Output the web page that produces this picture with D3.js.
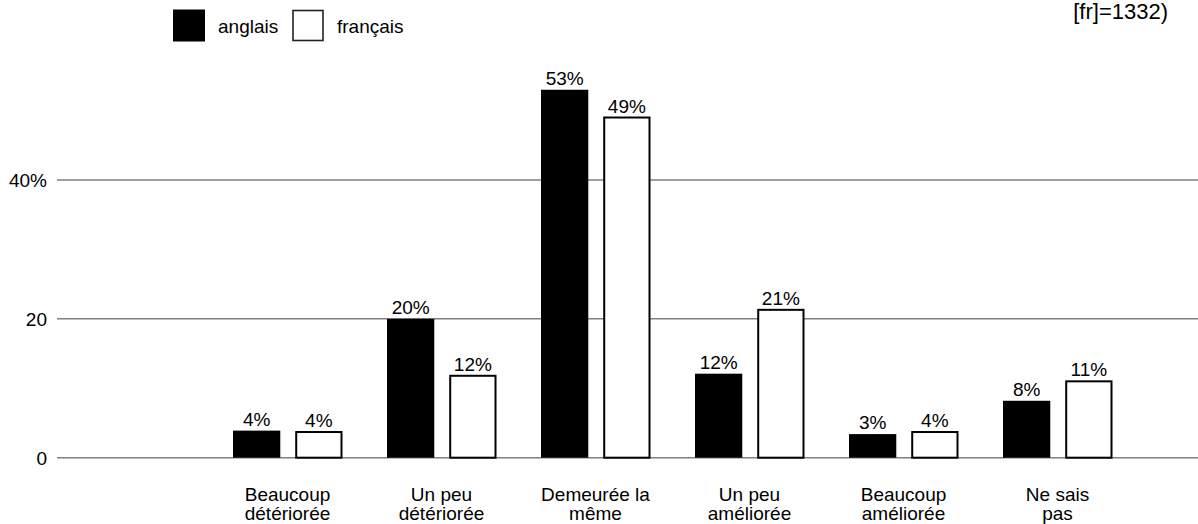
<!DOCTYPE html>
<html>
<head>
<meta charset="utf-8">
<script src="https://cdn.jsdelivr.net/npm/d3@7"></script>
<style>
  body { margin: 0; background: #fff; }
  svg { display: block; font-family: "Liberation Sans", Arial, Helvetica, sans-serif; }
</style>
</head>
<body>
<div id="chart"></div>
<script>
var width = 1198, height = 524;

// data
var categories = [
  ["Beaucoup", "détériorée"],
  ["Un peu", "détériorée"],
  ["Demeurée la", "même"],
  ["Un peu", "améliorée"],
  ["Beaucoup", "améliorée"],
  ["Ne sais", "pas"]
];
var series = ["anglais", "français"];
var anglais = [3.9, 20, 53, 12.1, 3.4, 8.2];
var francais = [3.7, 11.8, 49, 21.3, 3.7, 11];
var yTicks = [0, 20, 40];
var yTickLabels = ["0", "20", "40%"];
var note = "[fr]=1332)";

var fs = 19;

var svg = d3.select("#chart")
  .append("svg")
  .attr("width", width)
  .attr("height", height);

var x0 = d3.scaleBand()
  .domain(d3.range(categories.length))
  .range([210.5, 1134.5]);

var x1 = d3.scaleBand()
  .domain(series)
  .range([22.5, 132])
  .paddingInner(0.24);

var y = d3.scaleLinear()
  .domain([0, 40])
  .range([457.7, 180]);

var fill = d3.scaleOrdinal().domain(series).range(["#000", "#fff"]);

// gridlines + labels
var grid = svg.append("g");
grid.selectAll("line")
  .data(yTicks)
  .enter()
  .append("line")
  .attr("x1", 57)
  .attr("x2", width)
  .attr("y1", d => y(d))
  .attr("y2", d => y(d))
  .attr("stroke", "#808080")
  .attr("stroke-width", 1.5);

grid.selectAll("text")
  .data(yTicks)
  .enter()
  .append("text")
  .attr("x", 47)
  .attr("y", d => y(d))
  .attr("dy", "0.36em")
  .attr("text-anchor", "end")
  .style("font-size", fs + "px")
  .text((d, i) => yTickLabels[i]);

// bars
var rows = categories.map(function(c, i) {
  return [
    { key: "anglais", value: anglais[i] },
    { key: "français", value: francais[i] }
  ];
});

var groups = svg.append("g")
  .selectAll("g")
  .data(rows)
  .enter()
  .append("g")
  .attr("transform", (d, i) => "translate(" + x0(i) + ",0)");

groups.selectAll("rect")
  .data(d => d)
  .enter()
  .append("rect")
  .attr("x", d => x1(d.key) + (d.key == "français" ? 1 : 0))
  .attr("y", d => y(d.value))
  .attr("width", d => x1.bandwidth() - (d.key == "français" ? 2 : 0))
  .attr("height", d => y(0) - y(d.value))
  .attr("fill", d => fill(d.key))
  .attr("stroke", "#000")
  .attr("stroke-width", d => d.key == "français" ? 2 : 0);

groups.selectAll("text")
  .data(d => d)
  .enter()
  .append("text")
  .attr("x", d => x1(d.key) + x1.bandwidth() / 2)
  .attr("y", d => y(d.value) - 5)
  .attr("text-anchor", "middle")
  .style("font-size", fs + "px")
  .text(d => Math.round(d.value) + "%");

// category labels
var cats = svg.append("g")
  .selectAll("text")
  .data(categories)
  .enter()
  .append("text")
  .attr("text-anchor", "middle")
  .attr("x", (d, i) => x0(i) + x0.bandwidth() / 2)
  .attr("y", 501)
  .style("font-size", fs + "px");

cats.selectAll("tspan")
  .data(d => d)
  .enter()
  .append("tspan")
  .attr("x", function() { return d3.select(this.parentNode).attr("x"); })
  .attr("dy", (d, i) => i == 0 ? 0 : 18.6)
  .text(d => d);

// legend
var legend = svg.append("g");
var legendX = [173, 292];
legend.selectAll("rect")
  .data(series)
  .enter()
  .append("rect")
  .attr("x", (d, i) => legendX[i] + (i == 1 ? 1 : 0))
  .attr("y", (d, i) => 9.5 + (i == 1 ? 1 : 0))
  .attr("width", (d, i) => i == 1 ? 30 : 32)
  .attr("height", (d, i) => i == 1 ? 30 : 32)
  .attr("fill", d => fill(d))
  .attr("stroke", "#222")
  .attr("stroke-width", (d, i) => i == 1 ? 1.6 : 0);

legend.selectAll("text")
  .data(series)
  .enter()
  .append("text")
  .attr("x", (d, i) => legendX[i] + 45)
  .attr("y", 33)
  .style("font-size", fs + "px")
  .text(d => d);

// note at top right (rest of it is above the picture)
svg.append("text")
  .attr("x", 1168)
  .attr("y", 19)
  .attr("text-anchor", "end")
  .style("font-size", "22px")
  .text(note);
</script>
</body>
</html>
